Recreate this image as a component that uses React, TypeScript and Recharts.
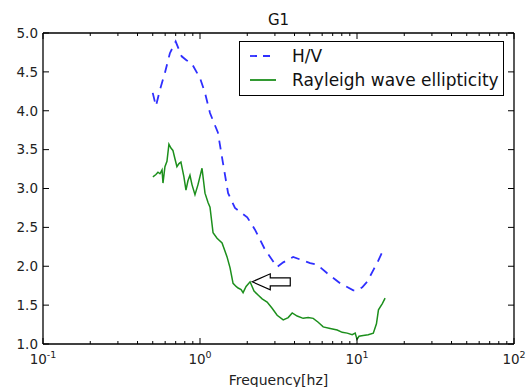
import { LineChart, Line, XAxis, YAxis, ReferenceDot, Legend } from 'recharts';

const hvFreq = [0.5, 0.524, 0.556, 0.598, 0.643, 0.7, 0.764, 0.82, 0.885, 1.0, 1.076, 1.158, 1.3, 1.4, 1.51, 1.67, 2.0, 2.24, 2.6, 3.1, 3.39, 3.92, 5.03, 5.58, 6.46, 7.82, 9.47, 10.0, 10.8, 11.6, 12.7, 13.5, 14.7];
const hvValues = [4.23, 4.06, 4.27, 4.49, 4.74, 4.89, 4.7, 4.65, 4.61, 4.42, 4.23, 3.97, 3.72, 3.33, 2.94, 2.75, 2.63, 2.47, 2.21, 1.99, 2.05, 2.12, 2.04, 2.02, 1.91, 1.78, 1.69, 1.69, 1.73, 1.8, 1.95, 2.05, 2.21];

const ellFreq = [0.501, 0.524, 0.54, 0.556, 0.573, 0.581, 0.598, 0.616, 0.634, 0.653, 0.672, 0.693, 0.713, 0.735, 0.756, 0.79, 0.814, 0.838, 0.863, 0.889, 0.929, 0.971, 1.03, 1.076, 1.125, 1.158, 1.211, 1.284, 1.382, 1.487, 1.554, 1.624, 1.698, 1.749, 1.827, 1.881, 1.966, 2.084, 2.209, 2.343, 2.488, 2.676, 2.88, 3.1, 3.388, 3.645, 3.866, 4.157, 4.54, 4.888, 5.26, 5.66, 6.09, 6.747, 7.48, 8.05, 8.66, 9.32, 9.74, 10.0, 10.3, 10.95, 11.8, 12.7, 13.3, 13.7, 14.5, 15.1];
const ellValues = [3.15, 3.18, 3.21, 3.19, 3.24, 3.07, 3.28, 3.35, 3.57, 3.52, 3.49, 3.38, 3.28, 3.32, 3.34, 3.15, 2.98, 3.1, 3.17, 3.05, 2.92, 3.05, 3.26, 2.94, 2.82, 2.76, 2.43, 2.36, 2.3, 2.12, 1.98, 1.78, 1.74, 1.72, 1.7, 1.66, 1.74, 1.8, 1.68, 1.63, 1.58, 1.54, 1.46, 1.37, 1.31, 1.34, 1.4, 1.36, 1.33, 1.34, 1.33, 1.28, 1.22, 1.2, 1.18, 1.15, 1.14, 1.12, 1.14, 1.06, 1.1, 1.11, 1.12, 1.14, 1.26, 1.44, 1.52, 1.59];

const majorX = [0.1, 1, 10, 100];
const minorX = [0.2, 0.3, 0.4, 0.5, 0.6, 0.7, 0.8, 0.9, 2, 3, 4, 5, 6, 7, 8, 9, 20, 30, 40, 50, 60, 70, 80, 90];
const yTicks = [1.0, 1.5, 2.0, 2.5, 3.0, 3.5, 4.0, 4.5, 5.0];

const arrowAt = { f: 2.09, v: 1.8 };

const hvData = hvFreq.map((f, i) => ({ f, v: hvValues[i] }));
const ellData = ellFreq.map((f, i) => ({ f, v: ellValues[i] }));
const xTicks = [...majorX, ...minorX];

const FONT = '"DejaVu Sans", sans-serif';
const HV_COLOR = '#2f2fff';
const ELL_COLOR = '#1c8f1c';

function BottomTick({ x, y, payload }: any) {
  const major = majorX.includes(payload.value);
  const exp = Math.round(Math.log10(payload.value));
  return (
    <g>
      <line x1={x} x2={x} y1={y} y2={y - (major ? 6 : 3)} stroke="#000" />
      {major && (
        <text x={x} y={y + 20} textAnchor="middle" fontSize={13.5} fill="#222" fontFamily={FONT}>
          10<tspan dy={-6} fontSize={9.5}>{exp}</tspan>
        </text>
      )}
    </g>
  );
}

function TopTick({ x, y, payload }: any) {
  const major = majorX.includes(payload.value);
  return <line x1={x} x2={x} y1={y} y2={y + (major ? 6 : 3)} stroke="#000" />;
}

function LeftTick({ x, y, payload }: any) {
  return (
    <g>
      <line x1={x} x2={x + 6} y1={y} y2={y} stroke="#000" />
      <text x={x - 5} y={y} dy="0.36em" textAnchor="end" fontSize={13.5} fill="#222" fontFamily={FONT}>
        {payload.value.toFixed(1)}
      </text>
    </g>
  );
}

function RightTick({ x, y }: any) {
  return <line x1={x} x2={x - 6} y1={y} y2={y} stroke="#000" />;
}

function Arrow({ cx, cy }: any) {
  const t = cx + 2;
  const pts = [
    [t, cy],
    [t + 18, cy - 8],
    [t + 18, cy - 4],
    [t + 38, cy - 4],
    [t + 38, cy + 4],
    [t + 18, cy + 4],
    [t + 18, cy + 8],
  ];
  return <polygon points={pts.map((p) => p.join(',')).join(' ')} fill="#fff" stroke="#000" strokeWidth={1.2} />;
}

function LegendBox() {
  const items = [
    { name: 'H/V', color: HV_COLOR, dash: '7 6' },
    { name: 'Rayleigh wave ellipticity', color: ELL_COLOR, dash: undefined },
  ];
  return (
    <div
      style={{
        width: 265,
        height: 55,
        border: '1.5px solid #000',
        background: '#fff',
        fontFamily: FONT,
        fontSize: 17,
        color: '#111',
        boxSizing: 'border-box',
        paddingTop: 2,
        whiteSpace: 'nowrap',
      }}
    >
      {items.map((it) => (
        <div key={it.name} style={{ display: 'flex', alignItems: 'center', height: 24 }}>
          <svg width={44} height={10} style={{ marginLeft: 8 }}>
            <line x1={2} x2={28} y1={5} y2={5} stroke={it.color} strokeWidth={1.8} strokeDasharray={it.dash} />
          </svg>
          <span>{it.name}</span>
        </div>
      ))}
    </div>
  );
}

export default function App() {
  return (
    <div style={{ position: 'absolute', left: 0, top: 0, width: 531, height: 387, background: '#fff' }}>
      <div
        style={{
          position: 'absolute',
          left: 43,
          width: 471,
          top: 11,
          lineHeight: '18px',
          textAlign: 'center',
          fontFamily: FONT,
          fontSize: 15,
          color: '#111',
        }}
      >
        G1
      </div>
      <LineChart width={531} height={387} margin={{ top: 32, right: 16, bottom: 0, left: 0 }}>
        <XAxis
          dataKey="f"
          type="number"
          scale="log"
          domain={[0.1, 100]}
          allowDataOverflow
          ticks={xTicks}
          interval={0}
          height={43}
          tickSize={0}
          tickMargin={0}
          tickLine={false}
          axisLine={{ stroke: '#000', strokeWidth: 1.3 }}
          tick={<BottomTick />}
          label={{ value: 'Frequency[hz]', position: 'insideBottom', offset: 2, fontSize: 14, fill: '#222', fontFamily: FONT }}
        />
        <XAxis
          xAxisId="top"
          orientation="top"
          dataKey="f"
          type="number"
          scale="log"
          domain={[0.1, 100]}
          allowDataOverflow
          ticks={xTicks}
          interval={0}
          height={1}
          tickSize={0}
          tickMargin={0}
          tickLine={false}
          axisLine={{ stroke: '#000', strokeWidth: 1.3 }}
          tick={<TopTick />}
        />
        <YAxis
          type="number"
          domain={[1, 5]}
          allowDataOverflow
          ticks={yTicks}
          interval={0}
          width={43}
          tickSize={0}
          tickMargin={0}
          tickLine={false}
          axisLine={{ stroke: '#000', strokeWidth: 1.3 }}
          tick={<LeftTick />}
        />
        <YAxis
          yAxisId="right"
          orientation="right"
          type="number"
          domain={[1, 5]}
          allowDataOverflow
          ticks={yTicks}
          interval={0}
          width={1}
          tickSize={0}
          tickMargin={0}
          tickLine={false}
          axisLine={{ stroke: '#000', strokeWidth: 1.3 }}
          tick={<RightTick />}
        />
        <Line
          data={hvData}
          dataKey="v"
          name="H/V"
          stroke={HV_COLOR}
          strokeWidth={1.8}
          strokeDasharray="9 7"
          dot={false}
          type="linear"
          isAnimationActive={false}
        />
        <Line
          data={ellData}
          dataKey="v"
          name="Rayleigh wave ellipticity"
          stroke={ELL_COLOR}
          strokeWidth={1.5}
          dot={false}
          type="linear"
          isAnimationActive={false}
        />
        <ReferenceDot x={arrowAt.f} y={arrowAt.v} shape={<Arrow />} />
        <Legend
          layout="vertical"
          align="center"
          verticalAlign="middle"
          content={<LegendBox />}
          wrapperStyle={{ position: 'absolute', left: 239, top: 41, width: 'auto' }}
        />
      </LineChart>
    </div>
  );
}
